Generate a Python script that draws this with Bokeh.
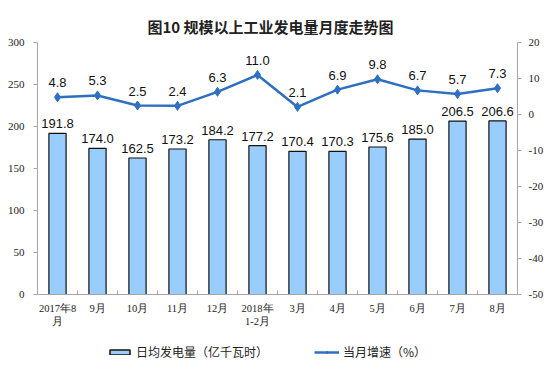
from bokeh.plotting import figure
from bokeh.models import (ColumnDataSource, Range1d, LinearAxis, FixedTicker,
                          Legend, LegendItem)
from bokeh.layouts import column
from bokeh.core.properties import value
from bokeh.embed import file_html
from bokeh.resources import INLINE

categories = ["2017年8\n月", "9月", "10月", "11月", "12月", "2018年\n1-2月",
              "3月", "4月", "5月", "6月", "7月", "8月"]
daily_output = [191.8, 174.0, 162.5, 173.2, 184.2, 177.2,
                170.4, 170.3, 175.6, 185.0, 206.5, 206.6]
growth = [4.8, 5.3, 2.5, 2.4, 6.3, 11.0, 2.1, 6.9, 9.8, 6.7, 5.7, 7.3]
left_ticks = [0, 50, 100, 150, 200, 250, 300]
right_ticks = [-50, -40, -30, -20, -10, 0, 10, 20]
right_tick_labels = ["-50", "-40", "-30", "-20", "-10", "0", "10", "20"]
title_text = "图10 规模以上工业发电量月度走势图"
bar_legend = "日均发电量（亿千瓦时）"
line_legend = "当月增速（%）"

BAR_FILL = "#99CCFF"
BAR_LINE = "#111111"
LINE_COLOR = "#2E6FC0"
AXIS_GREY = "#A6A6A6"

xs = list(range(len(categories)))
src = ColumnDataSource(dict(
    x=xs, v=daily_output, g=growth,
    vl=[f"{v:.1f}" for v in daily_output],
    gl=[f"{g:.1f}" for g in growth],
))

p = figure(frame_width=480, frame_height=252, output_backend="svg",
           toolbar_location=None,
           x_range=Range1d(-0.5, len(categories) - 0.5),
           y_range=Range1d(left_ticks[0], left_ticks[-1]),
           min_border_left=37, min_border_right=40,
           min_border_top=42, min_border_bottom=40)
p.extra_y_ranges = {"right": Range1d(right_ticks[0], right_ticks[-1])}
p.outline_line_color = None
p.xgrid.grid_line_color = None
p.ygrid.grid_line_color = None
p.background_fill_color = "white"
p.border_fill_color = "white"

p.title.text = title_text
p.title.text_font = "Noto Sans CJK SC"
p.title.text_font_size = "15px"
p.title.text_font_style = "bold"
p.title.text_color = "#222222"
p.title.align = "left"
p.title.offset = 110
p.title.standoff = 12

# x axis
xa = p.xaxis[0]
xa.ticker = FixedTicker(ticks=xs, minor_ticks=[i + 0.5 for i in xs[:-1]] + [-0.5])
xa.major_label_overrides = {i: c for i, c in zip(xs, categories)}
xa.major_tick_line_color = None
xa.minor_tick_in = 4
xa.minor_tick_out = 0
xa.minor_tick_line_color = AXIS_GREY
xa.axis_line_color = AXIS_GREY
xa.major_label_text_font = "Liberation Serif"
xa.major_label_text_font_size = "10.5px"
xa.major_label_standoff = 2
xa.major_label_text_color = "#222222"

# left axis
ya = p.yaxis[0]
ya.ticker = FixedTicker(ticks=left_ticks)
ya.axis_line_color = AXIS_GREY
ya.major_tick_line_color = AXIS_GREY
ya.major_tick_in = 0
ya.major_tick_out = 4
ya.minor_tick_line_color = None
ya.major_label_text_font = "Liberation Serif"
ya.major_label_text_font_size = "11px"
ya.major_label_text_color = "#222222"
ya.major_label_standoff = 9

ra = LinearAxis(y_range_name="right", ticker=FixedTicker(ticks=right_ticks))
ra.major_label_overrides = {t: s for t, s in zip(right_ticks, right_tick_labels)}
ra.axis_line_color = AXIS_GREY
ra.major_tick_line_color = AXIS_GREY
ra.major_tick_in = 0
ra.major_tick_out = 4
ra.minor_tick_line_color = None
ra.major_label_text_font = "Liberation Serif"
ra.major_label_text_font_size = "11px"
ra.major_label_text_color = "#222222"
ra.major_label_standoff = 7
p.add_layout(ra, "right")

p.vbar(x="x", top="v", width=0.43, bottom=0, source=src,
       fill_color=BAR_FILL, line_color=BAR_LINE, line_width=1.2)
p.line(x="x", y="g", source=src, y_range_name="right",
       line_color=LINE_COLOR, line_width=2.5)
p.scatter(x="x", y="g", source=src, y_range_name="right",
          marker="diamond", size=9, fill_color=LINE_COLOR,
          line_color=LINE_COLOR)

p.text(x="x", y="v", text="vl", source=src, text_align="center",
       text_baseline="bottom", y_offset=-5, text_font=value("Liberation Sans"),
       text_font_size="13px", text_color="#111111")
p.text(x="x", y="g", text="gl", source=src, y_range_name="right",
       text_align="center", text_baseline="bottom", y_offset=-10,
       text_font=value("Liberation Sans"), text_font_size="13px",
       text_color="#111111")

# legend strip: an axis-less figure whose hidden renderers only feed the legend
lg = figure(width=557, height=50, output_backend="svg", toolbar_location=None,
            x_axis_location=None, y_axis_location=None,
            x_range=Range1d(-0.5, len(categories) - 0.5),
            y_range=Range1d(left_ticks[0], left_ticks[-1]),
            min_border_left=0, min_border_right=0,
            min_border_top=0, min_border_bottom=0)
lg.outline_line_color = None
lg.xgrid.grid_line_color = None
lg.ygrid.grid_line_color = None
lg.background_fill_color = "white"
lg.border_fill_color = "white"
r_bar = lg.vbar(x="x", top="v", width=0.43, source=src,
                fill_color=BAR_FILL, line_color=BAR_LINE, line_width=1.5,
                visible=False)
r_line = lg.line(x="x", y="v", source=src, line_color=LINE_COLOR,
                 line_width=2.5, visible=False)
r_pts = lg.scatter(x="x", y="v", source=src, marker="diamond", size=6,
                   fill_color=LINE_COLOR, line_color=LINE_COLOR, visible=False)
legend = Legend(items=[LegendItem(label=bar_legend, renderers=[r_bar]),
                       LegendItem(label=line_legend, renderers=[r_line, r_pts])],
                orientation="horizontal", location=(70, 24),
                label_text_font="Noto Sans CJK SC", label_text_font_size="12px",
                label_text_color="#222222",
                glyph_width=25, glyph_height=6, spacing=46, label_standoff=4,
                padding=0, margin=0, border_line_color=None,
                background_fill_alpha=0, inactive_fill_alpha=0)
lg.add_layout(legend, "center")

layout = column(p, lg, spacing=0)
open("out.html", "w").write(file_html(layout, INLINE))
